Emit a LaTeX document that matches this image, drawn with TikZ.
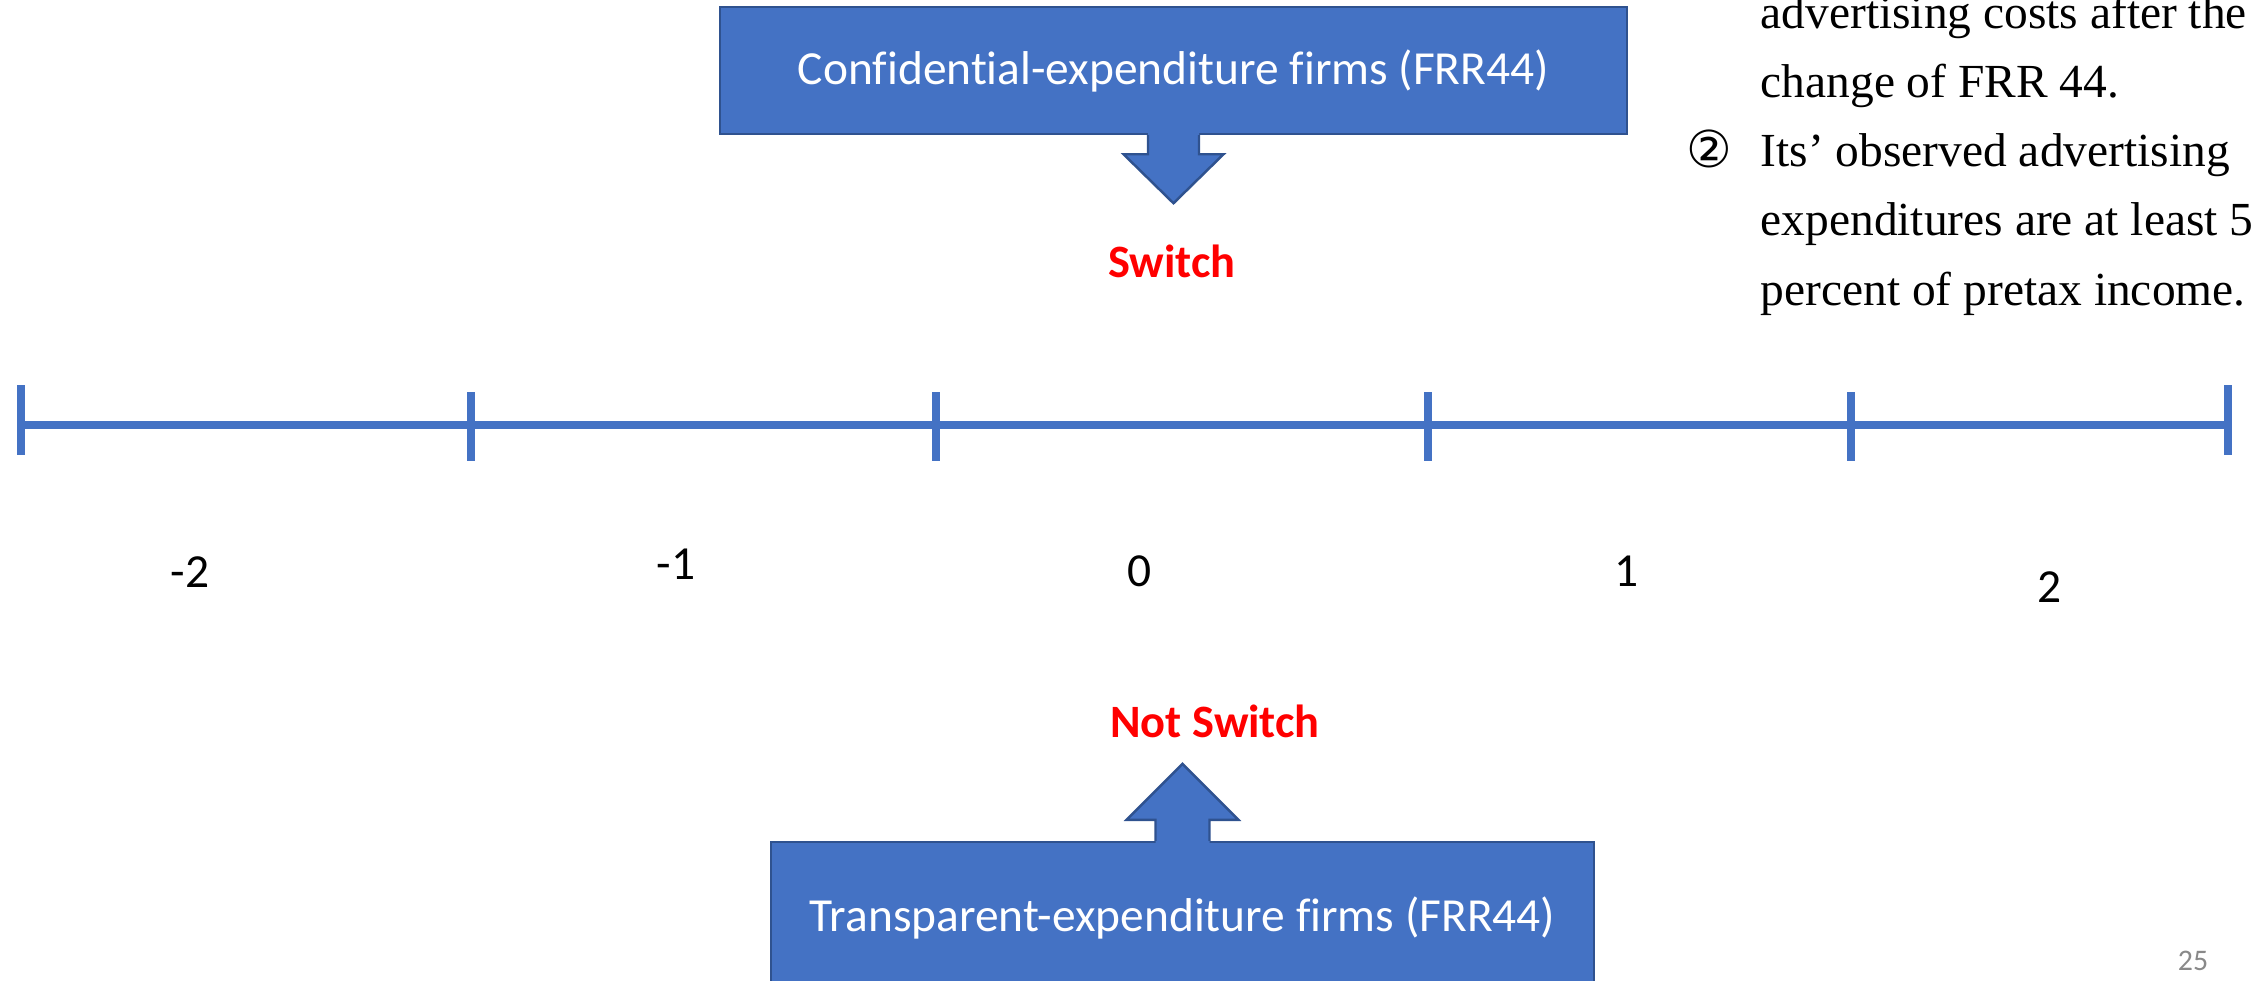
\documentclass[tikz,border=0pt]{standalone}
\usepackage{fontspec}
\usepackage{tikz}
\usetikzlibrary{positioning,calc}
\setmainfont{Carlito}[Ligatures=NoCommon]
\newfontfamily\timesfont{Liberation Serif}
\newfontfamily\markfont{DejaVu Sans}
\definecolor{boxblue}{RGB}{68,114,196}
\definecolor{boxedge}{RGB}{47,82,143}
\definecolor{switchred}{RGB}{255,0,0}
\definecolor{pagegray}{RGB}{137,137,137}

\begin{document}
\begin{tikzpicture}[
    firmbox/.style={rectangle, draw=boxedge, line width=0.7pt, fill=boxblue, text=white, inner sep=0pt, font=\fontsize{13.5}{16}\selectfont},
    switchlabel/.style={text=switchred, inner sep=0pt, font=\bfseries\fontsize{13.2}{16}\selectfont},
    yearlabel/.style={inner sep=0pt, font=\fontsize{13.5}{16}\selectfont},
    notetext/.style={align=left, inner sep=0pt, font=\timesfont\fontsize{13.5}{19.64}\selectfont},
    timeaxis/.style={draw=boxblue, line width=2.3pt},
    tickmark/.style={draw=boxblue, line width=2.5pt}
]
    \useasboundingbox (0,0) rectangle (22.52,9.8);
    \clip (0,0) rectangle (22.52,9.8);

    % the two groups of firms
    \node[firmbox, minimum width=9.07cm, minimum height=1.27cm] (conf) at (11.735,9.095) {Confidential-expenditure firms (FRR44)};
    \node[firmbox, minimum width=8.23cm, minimum height=1.52cm] (trans) at (11.825,0.62) {Transparent-expenditure firms (FRR44)};

    % callout arrows
    \begin{scope}[shift={(conf.south)}]
        \fill[boxblue] (-0.255,0.02) -- (-0.255,-0.19) -- (-0.50,-0.19) -- (0,-0.68) -- (0.50,-0.19) -- (0.255,-0.19) -- (0.255,0.02) -- cycle;
        \draw[boxedge, line width=0.7pt] (-0.255,0) -- (-0.255,-0.19) -- (-0.50,-0.19) -- (0,-0.68) -- (0.50,-0.19) -- (0.255,-0.19) -- (0.255,0);
    \end{scope}
    \begin{scope}[shift={(trans.north)}]
        \fill[boxblue] (-0.27,-0.02) -- (-0.27,0.21) -- (-0.56,0.21) -- (0,0.77) -- (0.56,0.21) -- (0.27,0.21) -- (0.27,-0.02) -- cycle;
        \draw[boxedge, line width=0.7pt] (-0.27,0) -- (-0.27,0.21) -- (-0.56,0.21) -- (0,0.77) -- (0.56,0.21) -- (0.27,0.21) -- (0.27,0);
    \end{scope}

    \node[switchlabel, anchor=base] (sw) at (11.72,7.03) {Switch};
    \node[switchlabel, anchor=base] (nsw) at (12.15,2.43) {Not Switch};

    % time line
    \foreach \x [count=\i from 0] in {0.21,4.71,9.36,14.28,18.51,22.28}
        \coordinate (t\i) at (\x,5.55);
    \draw[timeaxis] (t0) -- (t5);
    \draw[tickmark] ($(t0)+(0,0.40)$) -- ($(t0)+(0,-0.30)$);
    \draw[tickmark] ($(t5)+(0,0.40)$) -- ($(t5)+(0,-0.30)$);
    \foreach \i in {1,...,4}
        \draw[tickmark] ($(t\i)+(0,0.33)$) -- ($(t\i)+(0,-0.36)$);

    \foreach \x/\y/\lab [count=\i] in {1.90/3.93/-2, 6.76/4.01/-1, 11.40/3.94/0, 16.26/3.94/1, 20.49/3.78/2}
        \node[yearlabel, anchor=base] (y\i) at (\x,\y) {\lab};

    % criteria text (base = last line)
    \node[notetext, anchor=base west] (note) at (17.60,6.75) {advertising costs after the\\change of FRR 44.\\Its’ observed advertising\\expenditures are at least 5\\percent of pretax income.};
    \node[anchor=base, inner sep=0pt, font=\markfont\fontsize{14.5}{16}\selectfont] (mark) at (17.09,8.13) {②};

    \node[anchor=base, inner sep=0pt, text=pagegray, font=\fontsize{8.5}{10}\selectfont] (page) at (21.93,0.10) {25};
\end{tikzpicture}
\end{document}
